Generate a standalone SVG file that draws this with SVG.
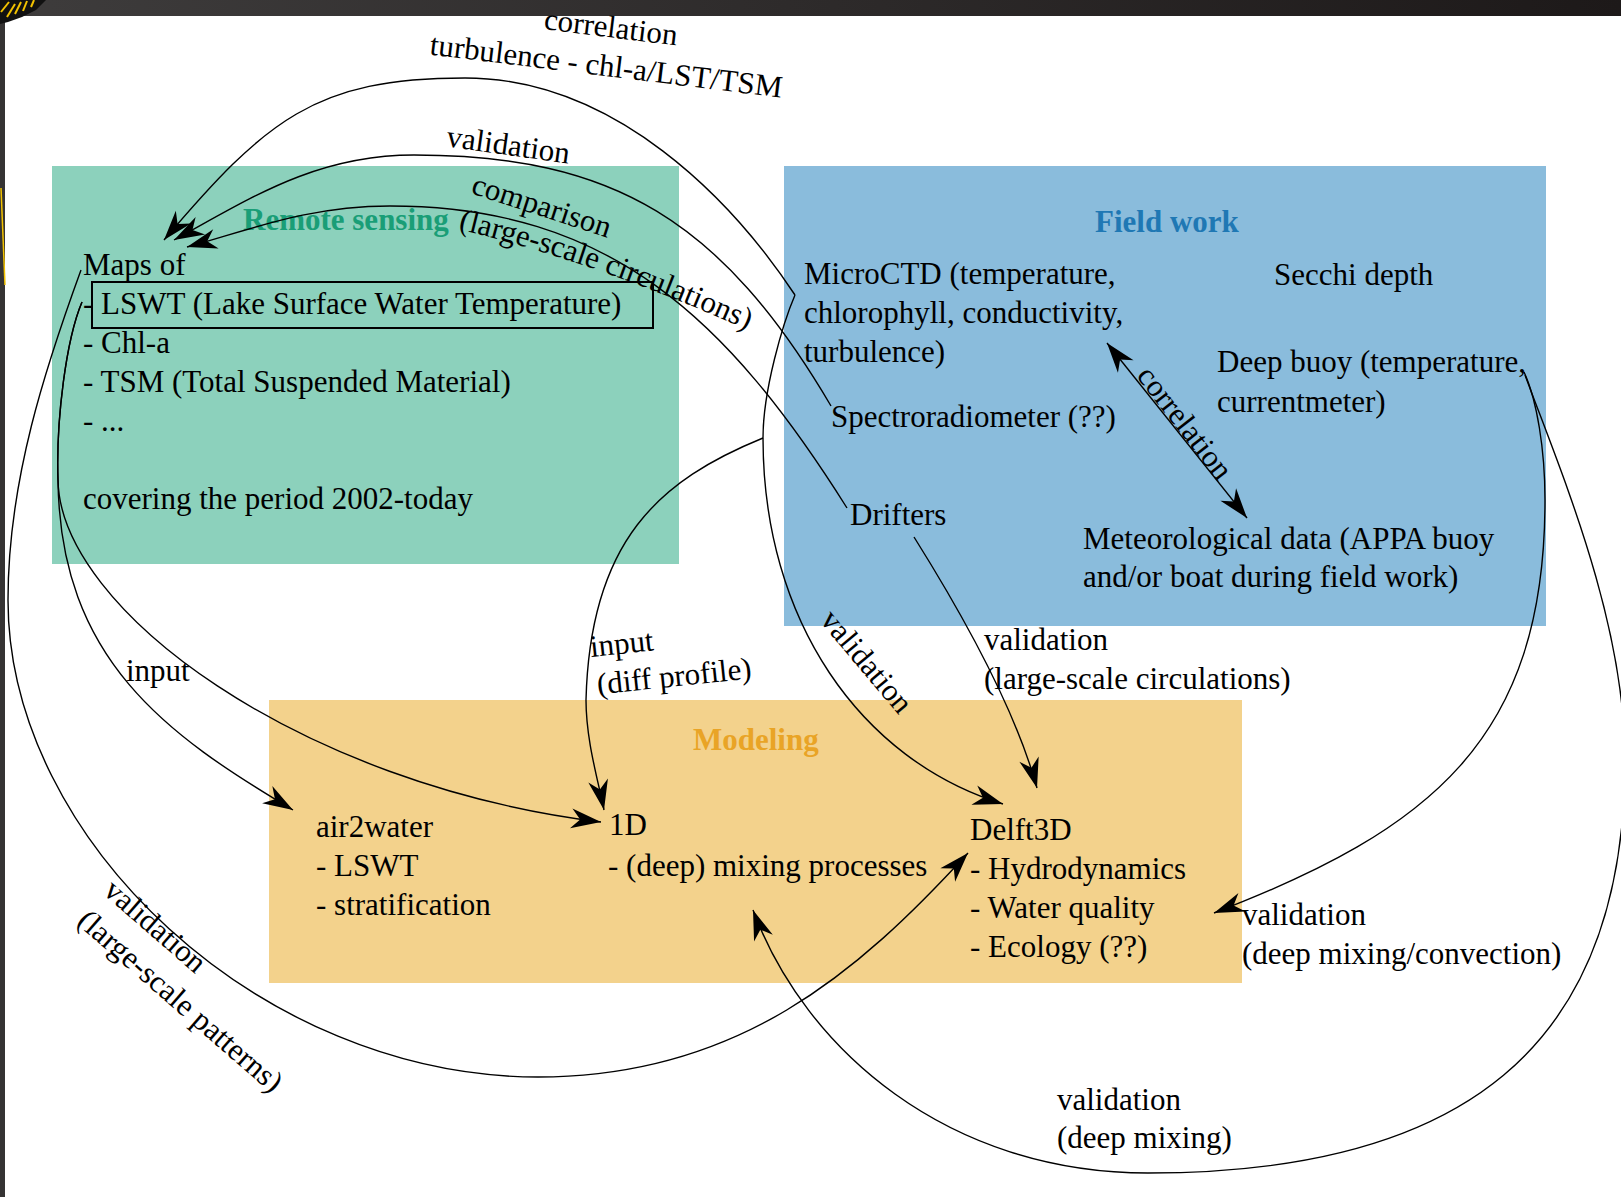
<svg xmlns="http://www.w3.org/2000/svg" width="1621" height="1197" viewBox="0 0 1621 1197">
<defs>
<style>
.t{font-family:"Liberation Serif","Times New Roman",serif;font-size:31px;fill:#000}
.b{font-weight:bold}
.c{fill:none;stroke:#000;stroke-width:1.4}
.ar{marker-end:url(#ah)}
.m{text-anchor:middle}
</style>
<linearGradient id="bar" x1="0" y1="0" x2="1" y2="0">
<stop offset="0" stop-color="#3e3c3c"/><stop offset="1" stop-color="#1d1919"/>
</linearGradient>
<marker id="ah" viewBox="-31 -11 32 22" refX="0" refY="0" markerWidth="32" markerHeight="22" markerUnits="userSpaceOnUse" orient="auto-start-reverse">
<path d="M0,0 L-30,-10 L-21,0 L-30,10 Z" fill="#000"/>
</marker>
</defs>
<rect x="0" y="0" width="1621" height="1197" fill="#fff"/>
<g id="frame">
<rect x="0" y="0" width="1621" height="16" fill="url(#bar)"/>
<rect x="0" y="16" width="5" height="1181" fill="#353333"/>
<line x1="1" y1="188" x2="5" y2="285" stroke="#f2c200" stroke-width="1.5"/>
<polygon points="0,0 46,0 36,10 22,17 8,22 0,24" fill="#111"/>
<g stroke="#f2c200" stroke-width="2">
<line x1="1" y1="12" x2="9" y2="2"/><line x1="7" y1="17" x2="15" y2="4"/><line x1="15" y1="14" x2="21" y2="2"/><line x1="23" y1="11" x2="27" y2="1"/><line x1="31" y1="7" x2="34" y2="0"/>
</g>
</g>

<g id="remote-sensing">
<rect x="52" y="166" width="627" height="398" fill="#8cd1bc"/>
<text class="t b" x="243" y="230" style="fill:#1a9e77">Remote sensing</text>
<g id="rs-maps">
<text class="t" x="83" y="275">Maps of</text>
<text class="t" x="83" y="314">- LSWT (Lake Surface Water Temperature)</text>
<rect x="92" y="282" width="561" height="46" fill="none" stroke="#000" stroke-width="2"/>
<text class="t" x="83" y="353">- Chl-a</text>
<text class="t" x="83" y="392">- TSM (Total Suspended Material)</text>
<text class="t" x="83" y="431">- ...</text>
<text class="t" x="83" y="509">covering the period 2002-today</text>
</g>
</g>

<g id="field-work">
<rect x="784" y="166" width="762" height="460" fill="#8abcdc"/>
<text class="t b" x="1095" y="232" style="fill:#1f78b4">Field work</text>
<g id="fw-microctd">
<text class="t" x="804" y="284">MicroCTD (temperature,</text>
<text class="t" x="804" y="323">chlorophyll, conductivity,</text>
<text class="t" x="804" y="362">turbulence)</text>
</g>
<g id="fw-secchi"><text class="t" x="1274" y="285">Secchi depth</text></g>
<g id="fw-deepbuoy">
<text class="t" x="1217" y="372">Deep buoy (temperature,</text>
<text class="t" x="1217" y="412">currentmeter)</text>
</g>
<g id="fw-spectro"><text class="t" x="831" y="427">Spectroradiometer (??)</text></g>
<g id="fw-drifters"><text class="t" x="850" y="525">Drifters</text></g>
<g id="fw-meteo">
<text class="t" x="1083" y="549">Meteorological data (APPA buoy</text>
<text class="t" x="1083" y="587">and/or boat during field work)</text>
</g>
</g>

<g id="modeling">
<rect x="269" y="700" width="973" height="283" fill="#f3d28c"/>
<text class="t b" x="693" y="750" style="fill:#e9a426">Modeling</text>
<g id="m-air2water">
<text class="t" x="316" y="837">air2water</text>
<text class="t" x="316" y="876">- LSWT</text>
<text class="t" x="316" y="915">- stratification</text>
</g>
<g id="m-1d">
<text class="t" x="609" y="835">1D</text>
<text class="t" x="608" y="876">- (deep) mixing processes</text>
</g>
<g id="m-delft3d">
<text class="t" x="970" y="840">Delft3D</text>
<text class="t" x="970" y="879">- Hydrodynamics</text>
<text class="t" x="970" y="918">- Water quality</text>
<text class="t" x="970" y="957">- Ecology (??)</text>
</g>
</g>

<g id="connectors">
<path class="c ar" d="M 795 295 C 732 200, 615 78, 465 78 C 315 78, 266 120, 164 240"/>
<path class="c ar" d="M 831 406 C 722 221, 614 155, 414 155 C 314 155, 248 200, 174 240"/>
<path class="c ar" d="M 847 508 C 728 319, 610 206, 390 206 C 310 206, 255 228, 187 247"/>
<path class="c" d="M 1107 343 L 1247 518" style="marker-start:url(#ah);marker-end:url(#ah)"/>
<path class="c ar" d="M 82 302 C 66 340, 56 420, 58 480 C 60 660, 167 735, 293 810"/>
<path class="c ar" d="M 82 302 C 66 340, 56 420, 58 480 C 60 610, 300 785, 601 822"/>
<path class="c ar" d="M 81 270 C 46 366, 8 480, 8 600 C 8 840, 260 1077, 538 1077 C 738 1077, 858 973, 968 853"/>
<path class="c ar" d="M 763 438 C 660 480, 590 540, 586 700 C 586 740, 598 780, 604 810"/>
<path class="c ar" d="M 795 295 C 783 323, 763 390, 763 438 C 763 620, 860 760, 1003 804"/>
<path class="c ar" d="M 914 537 Q 1010 690 1037 788"/>
<path class="c ar" d="M 1524 372 C 1537 400, 1545 450, 1545 500 C 1545 740, 1430 830, 1214 913"/>
<path class="c ar" d="M 1525 375 C 1560 470, 1625 620, 1625 760 C 1625 1050, 1460 1173, 1148 1173 C 948 1173, 805 1050, 753 910"/>
<path id="lsc" d="M 458 229 Q 600 263 754 333" fill="none"/>

<g id="labels">
<g transform="translate(605,76) rotate(7)">
<text class="t m" x="0" y="-39">correlation</text>
<text class="t m" x="0" y="0">turbulence - chl-a/LST/TSM</text>
</g>
<text class="t m" transform="translate(507,155) rotate(8)">validation</text>
<text class="t" transform="translate(470,193) rotate(18)">comparison</text>
<text class="t"><textPath href="#lsc">(large-scale circulations)</textPath></text>
<text class="t m" transform="translate(1177,429) rotate(52)">correlation</text>
<text class="t m" transform="translate(859,668) rotate(50)">validation</text>
<text class="t" x="984" y="650">validation</text>
<text class="t" x="984" y="689">(large-scale circulations)</text>
<g transform="translate(591,657) rotate(-6)">
<text class="t" x="0" y="0">input</text>
<text class="t" x="3" y="38">(diff profile)</text>
</g>
<text class="t" x="126" y="681">input</text>
<g transform="translate(102,893) rotate(41)">
<text class="t" x="0" y="0">validation</text>
<text class="t" x="0" y="40">(large-scale patterns)</text>
</g>
<text class="t" x="1242" y="925">validation</text>
<text class="t" x="1242" y="964">(deep mixing/convection)</text>
<text class="t" x="1057" y="1110">validation</text>
<text class="t" x="1057" y="1148">(deep mixing)</text>
</g>
</g>
</svg>
